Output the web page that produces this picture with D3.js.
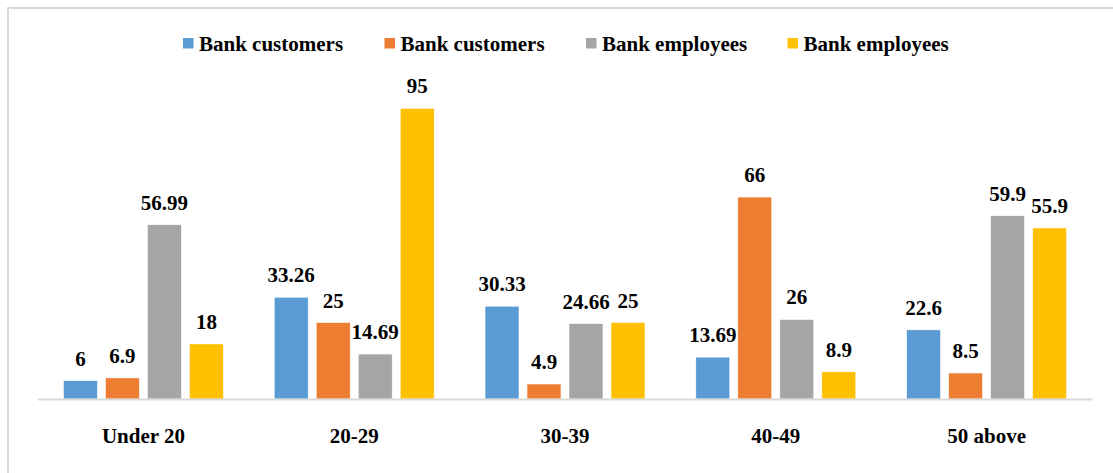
<!DOCTYPE html>
<html>
<head>
<meta charset="utf-8">
<script src="https://cdn.jsdelivr.net/npm/d3@7"></script>
<style>
  html, body { margin: 0; padding: 0; background: #fff; }
  svg { display: block; }
</style>
</head>
<body>
<svg id="chart" width="1113" height="473"></svg>
<script>
// Age groups along the x axis
const categories = ["Under 20", "20-29", "30-39", "40-49", "50 above"];
// Series names as shown in the legend
const seriesNames = ["Bank customers", "Bank customers", "Bank employees", "Bank employees"];
const seriesColors = ["#5B9BD5", "#ED7D31", "#A5A5A5", "#FFC000"];
// Values per series, one per age group
const series1 = [6, 33.26, 30.33, 13.69, 22.6];
const series2 = [6.9, 25, 4.9, 66, 8.5];
const series3 = [56.99, 14.69, 24.66, 26, 59.9];
const series4 = [18, 95, 25, 8.9, 55.9];
const seriesValues = [series1, series2, series3, series4];

const FONT = "'Liberation Serif', 'Times New Roman', Times, serif";

const svg = d3.select("#chart");
const W = 1113, H = 473;

// Outer chart frame (top and left edges visible)
svg.append("rect")
  .attr("x", 8).attr("y", 8)
  .attr("width", W + 20).attr("height", H + 20)
  .attr("fill", "#fff")
  .attr("stroke", "#d9d9d9").attr("stroke-width", 2);

const plot = { left: 38, right: 1092, bottom: 399 };

const x0 = d3.scaleBand()
  .domain(categories)
  .range([plot.left, plot.right])
  .paddingInner(0).paddingOuter(0);

const groupWidth = 160;
const x1 = d3.scaleBand()
  .domain(d3.range(seriesValues.length))
  .range([0, groupWidth])
  .paddingInner(8 / 42);

const y = d3.scaleLinear()
  .domain([0, 100])
  .range([plot.bottom, plot.bottom - 306]);

const groupOffset = (x0.bandwidth() - groupWidth) / 2;

function labelStyle(sel) {
  return sel
    .style("font-family", FONT)
    .style("font-weight", "bold")
    .style("font-size", "21px")
    .style("fill", "#000");
}

// Bars
const groups = svg.append("g").selectAll("g")
  .data(categories)
  .join("g")
  .attr("transform", c => `translate(${x0(c) + groupOffset},0)`);

groups.selectAll("rect")
  .data((c, i) => seriesValues.map((vals, s) => ({ s, v: vals[i] })))
  .join("rect")
  .attr("x", d => x1(d.s))
  .attr("y", d => y(d.v))
  .attr("width", x1.bandwidth())
  .attr("height", d => y(0) - y(d.v))
  .attr("fill", d => seriesColors[d.s])
  .attr("stroke", "#fff")
  .attr("stroke-width", 0.6);

// Value labels above bars
groups.selectAll("text")
  .data((c, i) => seriesValues.map((vals, s) => ({ s, v: vals[i] })))
  .join("text")
  .attr("x", d => x1(d.s) + x1.bandwidth() / 2)
  .attr("y", d => y(d.v) - 15)
  .attr("text-anchor", "middle")
  .call(labelStyle)
  .text(d => String(d.v));

// Baseline
svg.append("line")
  .attr("x1", plot.left).attr("x2", plot.right)
  .attr("y1", plot.bottom + 0.5).attr("y2", plot.bottom + 0.5)
  .attr("stroke", "#d9d9d9").attr("stroke-width", 2);

// Category axis labels
const xAxis = d3.axisBottom(x0).tickSize(0).tickPadding(0);
const axisG = svg.append("g")
  .attr("transform", `translate(0,${plot.bottom})`)
  .call(xAxis);
axisG.attr("font-family", null).attr("font-size", null);
axisG.select(".domain").remove();
axisG.selectAll("text")
  .attr("dy", null)
  .attr("y", 44)
  .call(labelStyle);

// Legend
const legend = svg.append("g").selectAll("g")
  .data(seriesNames)
  .join("g")
  .attr("transform", (d, i) => `translate(${183 + i * 201.5},0)`);
legend.append("rect")
  .attr("x", 0).attr("y", 38)
  .attr("width", 10.5).attr("height", 10.5)
  .attr("fill", (d, i) => seriesColors[i]);
legend.append("text")
  .attr("x", 16).attr("y", 51)
  .call(labelStyle)
  .text(d => d);
</script>
</body>
</html>
